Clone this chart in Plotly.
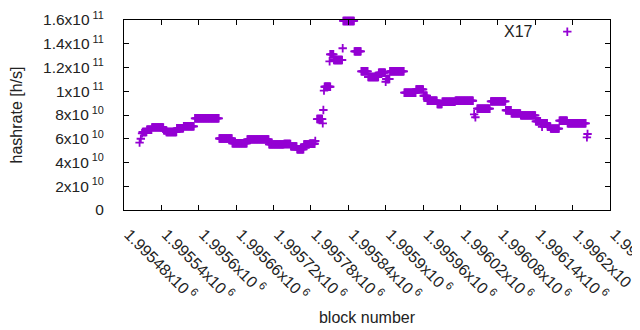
import plotly.graph_objects as go

# Run-length data: each run is a range of consecutive blocks
# sharing one hashrate value (h/s, in units of 1e9).
run_start = [1995505, 1995507, 1995509, 1995510, 1995517, 1995525, 1995544, 1995548,
             1995565, 1995576, 1995594, 1995633, 1995654, 1995678, 1995713, 1995737,
             1995748, 1995758, 1995769, 1995778, 1995787, 1995790, 1995799, 1995800,
             1995801, 1995802, 1995810, 1995811, 1995817, 1995831, 1995832, 1995850,
             1995861, 1995872, 1995889, 1995900, 1995901, 1995907, 1995930, 1995949,
             1995961, 1995967, 1995983, 1995991, 1996012, 1996042, 1996044, 1996047,
             1996069, 1996093, 1996102, 1996117, 1996141, 1996149, 1996151, 1996160,
             1996165, 1996179, 1996192, 1996223, 1996224]
run_end = [1995505, 1995507, 1995509, 1995516, 1995524, 1995543, 1995547, 1995564,
           1995575, 1995592, 1995632, 1995653, 1995677, 1995712, 1995736, 1995747,
           1995757, 1995768, 1995777, 1995786, 1995787, 1995798, 1995799, 1995800,
           1995801, 1995811, 1995810, 1995816, 1995830, 1995831, 1995849, 1995860,
           1995871, 1995888, 1995899, 1995900, 1995906, 1995929, 1995948, 1995960,
           1995966, 1995982, 1995990, 1996011, 1996040, 1996042, 1996044, 1996067,
           1996092, 1996101, 1996116, 1996140, 1996148, 1996159, 1996151, 1996164,
           1996178, 1996191, 1996221, 1996223, 1996224]
run_value_g = [56.7, 60.0, 64.6, 65.7, 67.6, 69.6, 67.1, 65.7,
               68.8, 70.5, 77.2, 60.2, 56.2, 59.5, 55.3, 55.6,
               53.6, 51.1, 55.3, 55.8, 58.1, 76.6, 73.0, 84.2,
               100.5, 103.8, 125.2, 131.1, 126.3, 136.2, 159.2, 133.6,
               116.8, 112.0, 115.6, 108.0, 110.3, 116.8, 98.8, 101.6,
               96.2, 92.0, 89.3, 91.2, 92.0, 80.6, 78.1, 85.3,
               91.5, 84.0, 81.4, 79.7, 74.7, 73.0, 70.1, 70.1,
               68.5, 75.2, 73.0, 61.2, 64.0]

x_ticks = list(range(1995480, 1996261, 60))
x_ticktext = [f"{t/1e6:.6g}x10<sup> 6</sup>" for t in x_ticks]
y_ticks = [0, 2e10, 4e10, 6e10, 8e10, 1e11, 1.2e11, 1.4e11, 1.6e11]
y_ticktext = ["0", "2x10<sup> 10</sup>", "4x10<sup> 10</sup>", "6x10<sup> 10</sup>",
              "8x10<sup> 10</sup>", "1x10<sup> 11</sup>", "1.2x10<sup> 11</sup>",
              "1.4x10<sup> 11</sup>", "1.6x10<sup> 11</sup>"]

blocks, rates = [], []
for s, e, v in zip(run_start, run_end, run_value_g):
    for b in range(s, e + 1):
        blocks.append(b)
        rates.append(v * 1e9)

COLOR = "#9400D3"
FONT = "Liberation Sans, Arial, sans-serif"
TXT = "#222222"

fig = go.Figure()
fig.add_trace(go.Scatter(
    x=blocks, y=rates, mode="markers", name=" ",
    marker=dict(symbol="cross-thin", size=6, color=COLOR,
                line=dict(color=COLOR, width=1.8)),
    showlegend=True, cliponaxis=False,
))

axis_common = dict(
    showline=True, linecolor="black", linewidth=1, mirror="ticks",
    ticks="inside", ticklen=5, tickcolor="black", tickwidth=1,
    showgrid=False, zeroline=False, automargin=False,
    ticklabeloverflow="allow",
)

# The page body adds an 8px offset, so the figure is 8px smaller each way.
fig.update_layout(
    width=632, height=322,
    margin=dict(l=116, r=30, t=12, b=120, autoexpand=False),
    paper_bgcolor="white", plot_bgcolor="white",
    font=dict(family=FONT, size=16, color=TXT),
    xaxis=dict(range=[1995480, 1996260.05], tickmode="array", tickvals=x_ticks,
               ticktext=x_ticktext, tickangle=45, ticklabelstandoff=8,
               ticklabelshift=5,
               tickfont=dict(family=FONT, size=16, color=TXT),
               title=dict(text="block number", font=dict(size=16), standoff=9),
               **axis_common),
    yaxis=dict(range=[0, 1.6e11], tickmode="array", tickvals=y_ticks,
               ticktext=y_ticktext, ticklabelstandoff=16,
               tickfont=dict(family=FONT, size=15.5, color=TXT),
               title=dict(text="hashrate [h/s]", font=dict(size=16), standoff=17),
               **axis_common),
    legend=dict(x=0.871, y=0.937, xanchor="left", yanchor="middle",
                bgcolor="rgba(0,0,0,0)", font=dict(size=15)),
    annotations=[dict(text="X17", xref="paper", yref="paper", x=0.846, y=0.937,
                      xanchor="right", yanchor="middle", showarrow=False,
                      font=dict(family=FONT, size=16, color=TXT))],
)

fig.write_html("out.html")
